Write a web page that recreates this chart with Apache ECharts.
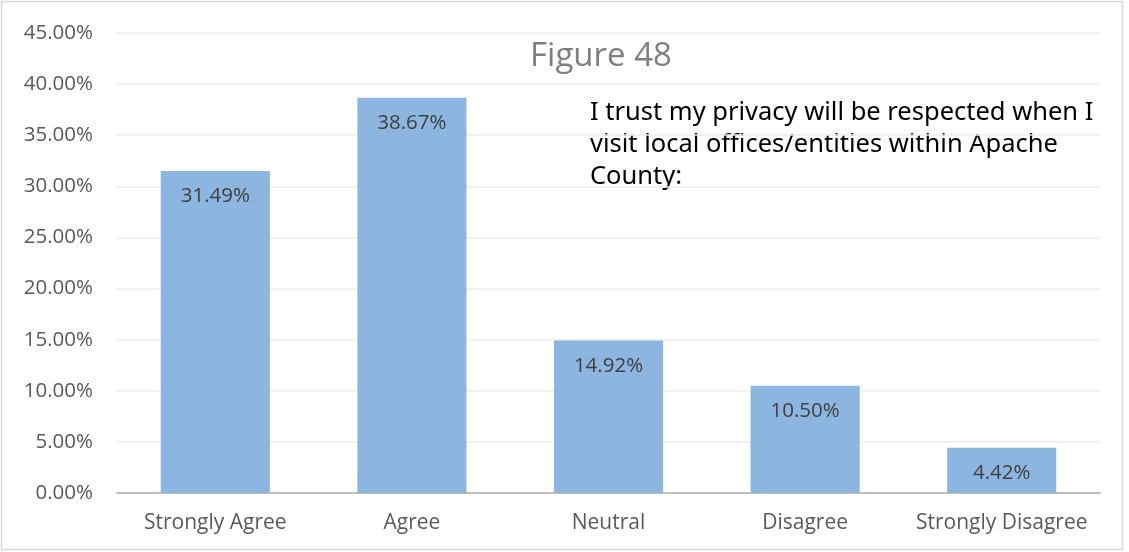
<!DOCTYPE html>
<html><head><meta charset="utf-8">
<script src="https://cdn.jsdelivr.net/npm/echarts@6/dist/echarts.min.js"></script>
<style>html,body{margin:0;padding:0;background:#fff}#c{width:1129px;height:552px}</style>
</head><body><div id="c"></div>
<script>
const categories = ['Strongly Agree', 'Agree', 'Neutral', 'Disagree', 'Strongly Disagree'];
const values = [31.49, 38.67, 14.92, 10.50, 4.42];
const titleText = 'Figure 48';
const noteLines = ['I trust my privacy will be respected when I', 'visit local offices/entities within Apache', 'County:'];

const chart = echarts.init(document.getElementById('c'), null, {renderer: 'canvas'});
const font = '"Open Sans", "Noto Sans", sans-serif';
chart.setOption({
  backgroundColor: '#fff',
  animation: false,
  grid: {left: 117, right: 29, top: 33, bottom: 59},
  xAxis: {
    type: 'category', data: categories,
    axisLine: {lineStyle: {color: '#bfbfbf', width: 2}},
    axisTick: {show: false},
    axisLabel: {color: '#595959', fontSize: 21, fontFamily: font, margin: 20, interval: 0, hideOverlap: false}
  },
  yAxis: {
    type: 'value', min: 0, max: 45, interval: 5,
    axisLine: {show: false}, axisTick: {show: false},
    splitLine: {lineStyle: {color: '#ececec', width: 1.5}},
    axisLabel: {color: '#595959', fontSize: 20.5, fontFamily: font, margin: 24,
      formatter: v => v.toFixed(2) + '%'}
  },
  series: [{
    type: 'bar', data: values, barWidth: '55.5%',
    itemStyle: {color: '#8cb5e0'},
    label: {show: true, position: 'insideTop', distance: 15, color: '#404040', fontSize: 20.5, fontFamily: font,
      formatter: p => p.value.toFixed(2) + '%'}
  }],
  graphic: [
    {type: 'rect', shape: {x: 1.5, y: 1.5, width: 1121, height: 548}, style: {fill: 'none', stroke: '#d9d9d9', lineWidth: 1.5}, silent: true},
    {type: 'text', x: 601, y: 57, style: {text: titleText, fill: '#7f7f7f', fontSize: 33, fontFamily: font, align: 'center', verticalAlign: 'middle'}},
    {type: 'text', x: 590, y: 97, style: {text: noteLines.join('\n'), fill: '#000', fontSize: 25.5, lineHeight: 32, fontFamily: '"Noto Sans", sans-serif'}}
  ]
});
</script></body></html>
